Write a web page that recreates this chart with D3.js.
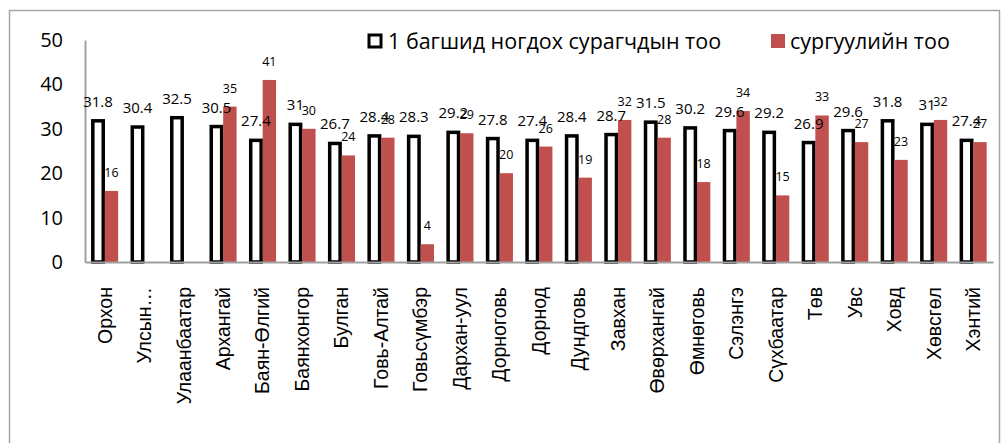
<!DOCTYPE html>
<html><head><meta charset="utf-8">
<script src="https://cdn.jsdelivr.net/npm/d3@7"></script>
<style>body{margin:0;background:#fff}</style>
</head><body>
<svg id="c" width="1008" height="443"></svg>
<script>
const categories = ["Орхон","Улсын…","Улаанбаатар","Архангай","Баян-Өлгий","Баянхонгор","Булган","Говь-Алтай","Говьсүмбэр","Дархан-уул","Дорноговь","Дорнод","Дундговь","Завхан","Өвөрхангай","Өмнөговь","Сэлэнгэ","Сүхбаатар","Төв","Увс","Ховд","Хөвсгөл","Хэнтий"];
const studentsPerTeacher = [31.8,30.4,32.5,30.5,27.4,31,26.7,28.4,28.3,29.2,27.8,27.4,28.4,28.7,31.5,30.2,29.6,29.2,26.9,29.6,31.8,31,27.4];
const schools = [16,null,null,35,41,30,24,28,4,29,20,26,19,32,28,18,34,15,33,27,23,32,27];
const seriesNames = ["1 багшид ногдох сурагчдын тоо","сургуулийн тоо"];
const yTicks = [0,10,20,30,40,50];

const svg = d3.select("#c");
const numFont = "'Open Sans','Noto Sans',sans-serif";
const red = "#C0504D";

svg.append("rect").attr("x",9.5).attr("y",10.5).attr("width",990).attr("height",460)
  .attr("fill","none").attr("stroke","#A6A6A6").attr("stroke-width",1.5);

const x = d3.scaleBand().domain(categories).range([85,993]).paddingInner(0.32).paddingOuter(0.16);
const xs = d3.scaleBand().domain([0,1]).range([0,x.bandwidth()]);
const y = d3.scaleLinear().domain([0,50]).range([262,40]);

// y axis
const ya = svg.append("g").attr("transform","translate(85,0)").call(d3.axisLeft(y).tickValues(yTicks).tickSize(0).tickPadding(22));
ya.select(".domain").attr("stroke","#A0A0A0").attr("stroke-width",2);
ya.selectAll("text").attr("font-family",numFont).attr("font-size",20).attr("fill","#000");

const g = svg.append("g");
g.selectAll("rect.b").data(categories).join("rect").attr("class","b")
  .attr("x",d=>x(d)+xs(0)+1.5).attr("width",xs.bandwidth()-3)
  .attr("y",(d,i)=>y(studentsPerTeacher[i])).attr("height",(d,i)=>y(0)-y(studentsPerTeacher[i]))
  .attr("fill","#fff").attr("stroke","#000").attr("stroke-width",3.5);
g.selectAll("rect.r").data(categories.filter((d,i)=>schools[i]!=null)).join("rect").attr("class","r")
  .attr("x",d=>x(d)+xs(1)).attr("width",xs.bandwidth())
  .attr("y",d=>y(schools[categories.indexOf(d)])).attr("height",d=>y(0)-y(schools[categories.indexOf(d)]))
  .attr("fill",red);

// x axis
const xa = svg.append("g").attr("transform","translate(0,262)").call(d3.axisBottom(x).tickSize(0).tickFormat(""));
xa.select(".domain").attr("stroke","#A0A0A0").attr("stroke-width",2);
svg.append("g").selectAll("text").data(categories).join("text")
  .attr("transform",d=>`translate(${x(d)+x.bandwidth()/2},287) rotate(-90)`)
  .attr("text-anchor","end").attr("dy","0.35em")
  .attr("font-family","'Liberation Sans',Arial,sans-serif").attr("font-size",19.5).text(d=>d);

// labels
svg.append("g").selectAll("text").data(categories).join("text")
  .attr("x",d=>x(d)+xs(0)+xs.bandwidth()/2).attr("y",(d,i)=>y(studentsPerTeacher[i])-14)
  .attr("text-anchor","middle").attr("font-family",numFont).attr("font-size",15)
  .text((d,i)=>studentsPerTeacher[i]);
svg.append("g").selectAll("text").data(categories.filter((d,i)=>schools[i]!=null)).join("text")
  .attr("x",d=>x(d)+xs(1)+xs.bandwidth()/2).attr("y",d=>y(schools[categories.indexOf(d)])-14)
  .attr("text-anchor","middle").attr("font-family",numFont).attr("font-size",12.5)
  .text(d=>schools[categories.indexOf(d)]);

// legend
const lg = svg.append("g");
lg.append("rect").attr("x",369).attr("y",35).attr("width",12).attr("height",12).attr("fill","#fff").attr("stroke","#000").attr("stroke-width",3);
lg.append("text").attr("x",388).attr("y",49).attr("font-family",numFont).attr("font-size",21.5).text(seriesNames[0]);
lg.append("rect").attr("x",771).attr("y",34).attr("width",14).attr("height",14).attr("fill",red);
lg.append("text").attr("x",790).attr("y",49).attr("font-family",numFont).attr("font-size",21.5).text(seriesNames[1]);
</script>
</body></html>
